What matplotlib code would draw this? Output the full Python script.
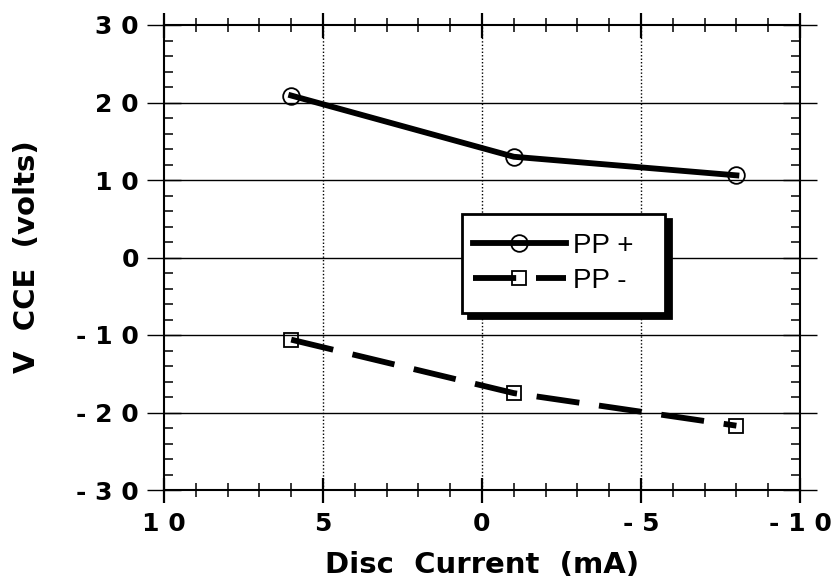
import matplotlib
matplotlib.use("Agg")
import matplotlib.pyplot as plt
from matplotlib.ticker import MultipleLocator
from matplotlib.lines import Line2D
from matplotlib.legend_handler import HandlerLine2D

current = [6, -1, -8]
pp_plus = [20.9, 13.0, 10.6]
pp_minus = [-10.6, -17.5, -21.7]
xticks = [10, 5, 0, -5, -10]
xtick_labels = ["1 0", "5", "0", "- 5", "- 1 0"]
yticks = [-30, -20, -10, 0, 10, 20, 30]
ytick_labels = ["- 3 0", "- 2 0", "- 1 0", "0", "1 0", "2 0", "3 0"]

plt.rcParams['font.family'] = ['DejaVu Sans']

fig = plt.figure(figsize=(8.36, 5.86), dpi=100)
L, R, T, B = 164, 800, 25, 490
ax = fig.add_axes([L/836, 1-B/586, (R-L)/836, (B-T)/586])

ax.plot(current, pp_plus, color='black', lw=4.2, marker='o', markersize=12,
        markerfacecolor='none', markeredgecolor='black', markeredgewidth=1.3,
        label='PP +', zorder=3)
ax.plot(current, pp_minus, color='black', lw=4.2, marker='s', markersize=10,
        markerfacecolor='none', markeredgecolor='black', markeredgewidth=1.3,
        dashes=(7.4, 3.4), label='PP -', zorder=3)

ax.set_xlim(10, -10)
ax.set_ylim(-30, 30)
ax.set_xticks(xticks)
ax.set_xticklabels(xtick_labels, fontsize=18, fontweight='bold')
ax.set_yticks(yticks)
ax.set_yticklabels(ytick_labels, fontsize=18, fontweight='bold')
ax.xaxis.set_minor_locator(MultipleLocator(1))
ax.yaxis.set_minor_locator(MultipleLocator(2))

ax.tick_params(axis='x', which='minor', direction='inout', top=True, bottom=True,
               length=10, width=1.1)
ax.tick_params(axis='x', which='major', direction='inout', top=True, bottom=True,
               length=18, width=1.6, pad=7)
ax.tick_params(axis='y', which='minor', direction='in', left=True, right=True,
               length=6.5, width=1.1)
ax.tick_params(axis='y', which='major', direction='inout', left=True, right=True,
               length=24, width=1.0, pad=6)

for y in yticks[1:-1]:
    ax.axhline(y, color='black', lw=1.0, zorder=1)
for x in xticks[1:-1]:
    ax.axvline(x, color='black', lw=1.0, ls=(0, (1, 1.5)), zorder=1)

for s in ax.spines.values():
    s.set_linewidth(1.5)

ax.set_xlabel('Disc  Current  (mA)', fontsize=21, fontweight='bold', labelpad=11)
ax.set_ylabel('V  CCE  (volts)', fontsize=21, fontweight='bold')
ax.yaxis.set_label_coords((41-L)/(R-L), (B-257)/(B-T))

lx0, lx1, ly0, ly1 = 462, 665, 214, 313
leg = ax.legend(loc='upper left',
                bbox_to_anchor=((lx0-L)/(R-L), (B-ly1)/(B-T),
                                (lx1-lx0)/(R-L), (ly1-ly0)/(B-T)),
                mode='expand', borderaxespad=0,
                prop={'family': 'Liberation Sans', 'size': 20},
                frameon=True, fancybox=False, handlelength=3.05,
                handletextpad=0.25, borderpad=0.68, labelspacing=0.32,
                handler_map={Line2D: HandlerLine2D(xpad=-0.3)},
                shadow={'color': 'black', 'alpha': 1, 'ox': 4, 'oy': -3.5})
leg.get_frame().set_edgecolor('black')
leg.get_frame().set_linewidth(2)
leg.get_frame().set_alpha(1)

fig.savefig('out.png', dpi=100)
